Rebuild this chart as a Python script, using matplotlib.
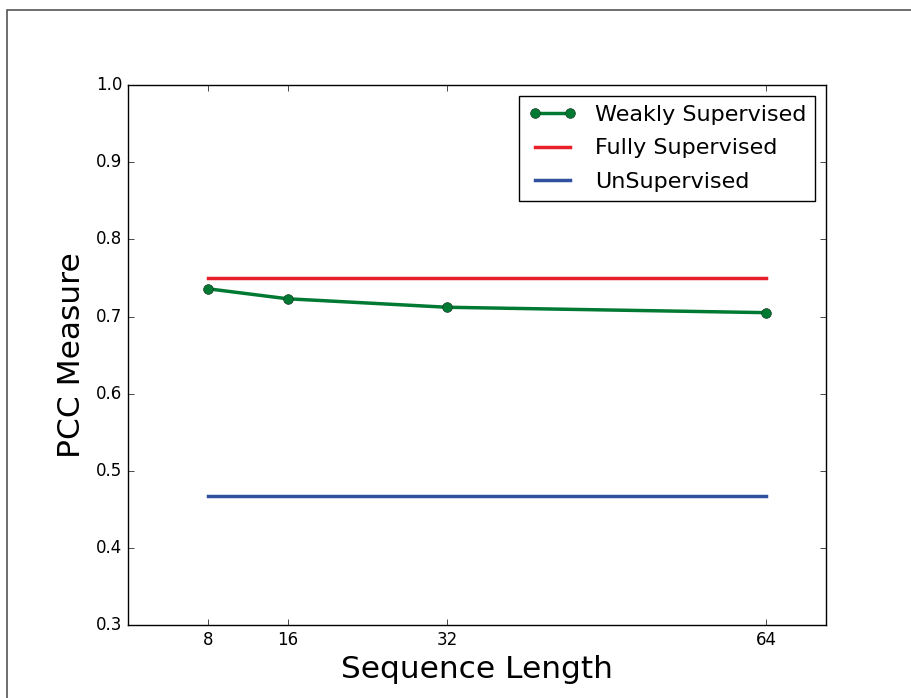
import numpy as np
import matplotlib as mpl
mpl.use('Agg')
import matplotlib.pyplot as plt
from matplotlib.patches import Rectangle

seq_len = [8, 16, 32, 64]
weakly = [0.736, 0.723, 0.712, 0.705]
fully = [0.75, 0.75, 0.75, 0.75]
unsup = [0.467, 0.467, 0.467, 0.467]

plt.style.use('classic')
fig = plt.figure(figsize=(9.11, 6.98), dpi=100, facecolor='white')
ax = fig.add_axes([0.1405, 0.1046, 0.7662, 0.7734])

ax.plot(seq_len, weakly, '-o', color='#007a33', lw=2.5, ms=7,
        markeredgecolor='#1a3a22', label='Weakly Supervised')
ax.plot(seq_len, fully, '-', color='#e8202a', lw=2.5, label='Fully Supervised')
ax.plot(seq_len, unsup, '-', color='#3050a0', lw=2.5, label='UnSupervised')

ax.set_xlim(0, 70)
ax.set_ylim(0.3, 1.0)
ax.set_xticks(seq_len)
ax.set_yticks(np.arange(0.3, 1.01, 0.1))
ax.tick_params(labelsize=12)
ax.set_xlabel('Sequence Length', fontsize=22.5)
ax.set_ylabel('PCC Measure', fontsize=22.5, labelpad=7)

leg = ax.legend(loc='upper right', fontsize=16, numpoints=2, handlelength=2.2,
                labelspacing=0.6)
leg.get_frame().set_linewidth(1.0)

# outer frame around the figure
fig.add_artist(Rectangle((7 / 911, -0.1), 1.2, 1.1 - 10 / 698,
                         transform=fig.transFigure, fill=False,
                         edgecolor='#555555', lw=1.2))

fig.savefig('out.png', dpi=100, facecolor='white')
